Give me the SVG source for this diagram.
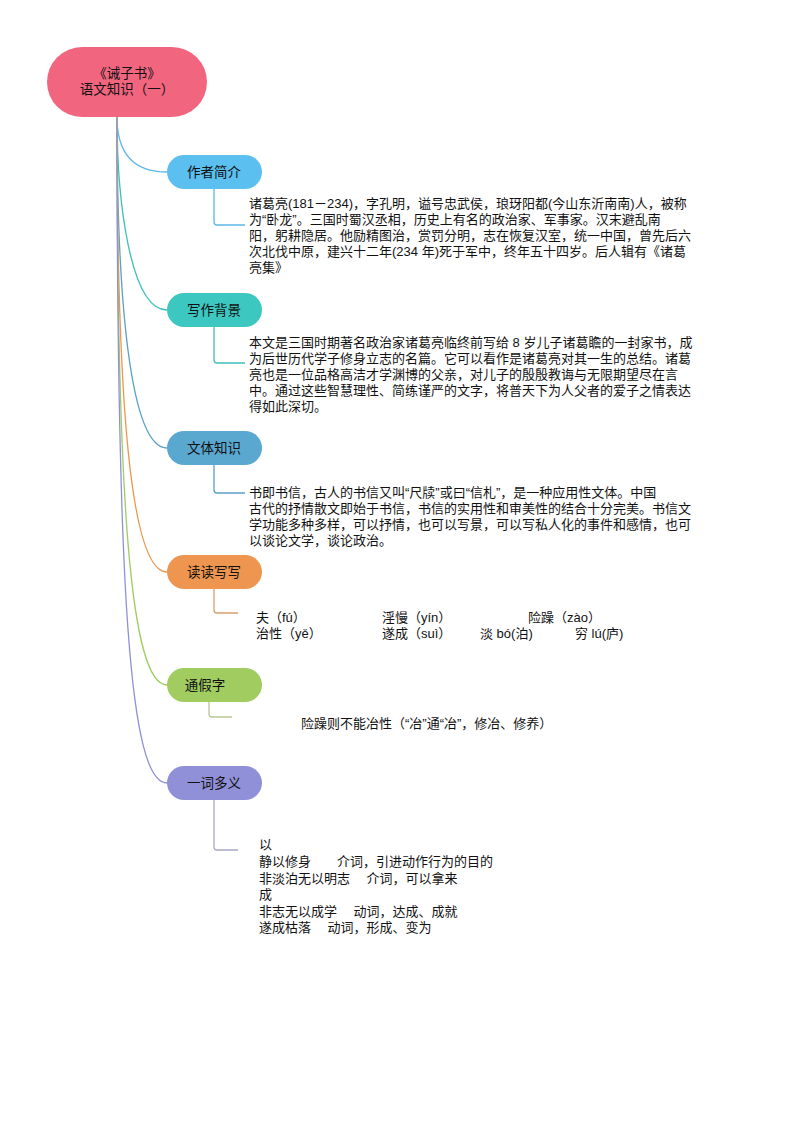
<svg xmlns="http://www.w3.org/2000/svg" width="794" height="1123" viewBox="0 0 794 1123">
<style>
text{font-family:"Liberation Sans","Noto Sans CJK SC",sans-serif;font-size:13px;fill:#111}
.n{font-size:13.5px}
.c{fill:none;stroke-width:1.3}
</style>
<rect width="794" height="1123" fill="#fff"/>
<g id="connectors">
<path class="c" stroke="#5BB8E8" d="M117,117 C117,150 130,172 167,172"/>
<path class="c" stroke="#3CC0B8" d="M117,117 C117,200 130,310 167,310"/>
<path class="c" stroke="#5AA0C8" d="M117,117 C117,300 130,448 167,448"/>
<path class="c" stroke="#EE9650" d="M117,117 C117,400 130,572 167,572"/>
<path class="c" stroke="#A0CC60" d="M117,117 C117,500 130,685 167,685"/>
<path class="c" stroke="#9090D8" d="M117,117 C117,600 130,783 167,783"/>
<path class="c" stroke="#5BB8E8" d="M214,189 V222 Q214,225 217,225 H245"/>
<path class="c" stroke="#3CC0B8" d="M214,327 V360 Q214,363 217,363 H245"/>
<path class="c" stroke="#5AA0C8" d="M214,465 V490 Q214,493 217,493 H245"/>
<path class="c" stroke="#D4A070" d="M214,589 V610 Q214,613 217,613 H238"/>
<path class="c" stroke="#B8C890" d="M209,702 V714 Q209,717 212,717 H232"/>
<path class="c" stroke="#A8A8C8" d="M214,800 V847 Q214,850 217,850 H238"/>
</g>
<g id="root">
<rect x="47" y="47" width="160" height="70" rx="35" fill="#F2657F"/>
<text x="127" y="78" text-anchor="middle" class="n">《诫子书》</text>
<text x="127" y="94" text-anchor="middle" class="n">语文知识（一）</text>
</g>
<g id="n1">
<rect x="167" y="155" width="95" height="34" rx="17" fill="#5BC0F0"/>
<text x="214" y="177" text-anchor="middle" class="n">作者简介</text>
<text x="249" y="208">诸葛亮(181－234)，字孔明，谥号忠武侯，琅玡阳都(今山东沂南南)人，被称</text>
<text x="249" y="224">为“卧龙”。三国时蜀汉丞相，历史上有名的政治家、军事家。汉末避乱南</text>
<text x="249" y="240">阳，躬耕隐居。他励精图治，赏罚分明，志在恢复汉室，统一中国，曾先后六</text>
<text x="249" y="256">次北伐中原，建兴十二年(234 年)死于军中，终年五十四岁。后人辑有《诸葛</text>
<text x="249" y="272">亮集》</text>
</g>
<g id="n2">
<rect x="167" y="293" width="95" height="34" rx="17" fill="#3CC8C0"/>
<text x="214" y="315" text-anchor="middle" class="n">写作背景</text>
<text x="249" y="347">本文是三国时期著名政治家诸葛亮临终前写给 8 岁儿子诸葛瞻的一封家书，成</text>
<text x="249" y="363">为后世历代学子修身立志的名篇。它可以看作是诸葛亮对其一生的总结。诸葛</text>
<text x="249" y="379">亮也是一位品格高洁才学渊博的父亲，对儿子的殷殷教诲与无限期望尽在言</text>
<text x="249" y="395">中。通过这些智慧理性、简练谨严的文字，将普天下为人父者的爱子之情表达</text>
<text x="249" y="411">得如此深切。</text>
</g>
<g id="n3">
<rect x="167" y="431" width="95" height="34" rx="17" fill="#5AA8D0"/>
<text x="214" y="453" text-anchor="middle" class="n">文体知识</text>
<text x="249" y="497">书即书信，古人的书信又叫“尺牍”或曰“信札”，是一种应用性文体。中国</text>
<text x="249" y="513">古代的抒情散文即始于书信，书信的实用性和审美性的结合十分完美。书信文</text>
<text x="249" y="529">学功能多种多样，可以抒情，也可以写景，可以写私人化的事件和感情，也可</text>
<text x="249" y="545">以谈论文学，谈论政治。</text>
</g>
<g id="n4">
<rect x="167" y="555" width="95" height="34" rx="17" fill="#EE9650"/>
<text x="214" y="577" text-anchor="middle" class="n">读读写写</text>
<text x="256" y="622">夫（fú）</text>
<text x="382" y="622">淫慢（yín）</text>
<text x="528" y="622">险躁（zào）</text>
<text x="256" y="638">治性（yě）</text>
<text x="382" y="638">遂成（suì）</text>
<text x="480" y="638">淡 bó(泊)</text>
<text x="575" y="638">穷 lú(庐)</text>
</g>
<g id="n5">
<rect x="167" y="668" width="95" height="34" rx="17" fill="#A0CC60"/>
<text x="205" y="690" text-anchor="middle" class="n">通假字</text>
<text x="301" y="728">险躁则不能冶性（“冶”通“冶”，修冶、修养）</text>
</g>
<g id="n6">
<rect x="167" y="766" width="95" height="34" rx="17" fill="#9090D8"/>
<text x="214" y="788" text-anchor="middle" class="n">一词多义</text>
<text x="259" y="849">以</text>
<text x="259" y="866">静以修身　　介词，引进动作行为的目的</text>
<text x="259" y="883">非淡泊无以明志　 介词，可以拿来</text>
<text x="259" y="899">成</text>
<text x="259" y="916">非志无以成学　 动词，达成、成就</text>
<text x="259" y="932">遂成枯落　 动词，形成、变为</text>
</g>
</svg>
